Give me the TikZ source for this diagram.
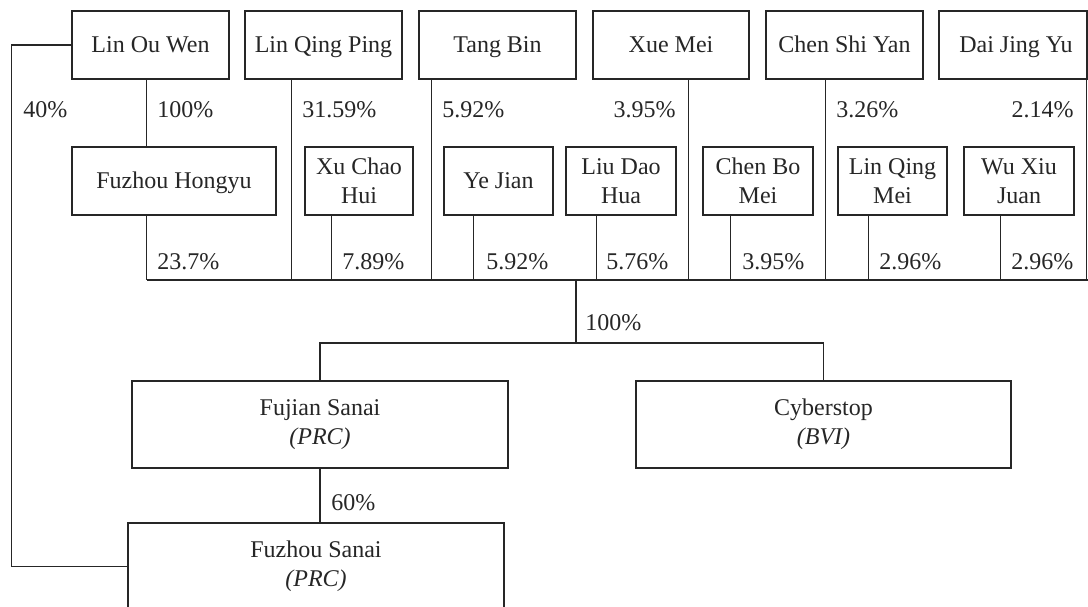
\documentclass[tikz,border=0pt]{standalone}
\usepackage{fontspec}
\setmainfont{Liberation Serif}
\usetikzlibrary{positioning,calc}
\tikzset{
  ent/.style={draw=black!85, line width=0.7pt, inner sep=0pt, minimum height=34pt,
    align=center, text=black!85, font=\fontsize{12}{14.5}\selectfont},
  oneline/.style={ent, text height=9.5pt, text depth=2.5pt},
  pct/.style={inner sep=0pt, text=black!85, font=\fontsize{12}{14.5}\selectfont},
  link/.style={draw=black!85, line width=0.7pt}
}

\begin{document}
\begin{tikzpicture}[x=0.5pt,y=-0.5pt]
\useasboundingbox (0,0) rectangle (1088,606);
% shareholders
\node[oneline,minimum width=78.5pt] (linou) at (150.5,45) {Lin Ou Wen};
\node[oneline,minimum width=78.5pt] (lqp) at (323.5,45) {Lin Qing Ping};
\node[oneline,minimum width=78.5pt] (tang) at (497.5,45) {Tang Bin};
\node[oneline,minimum width=78pt] (xue) at (671,45) {Xue Mei};
\node[oneline,minimum width=78.5pt] (csy) at (844.5,45) {Chen Shi Yan};
\node[oneline,minimum width=74pt] (dai) at (1013,45) {\hspace{3pt}Dai Jing Yu};
\node[oneline,minimum width=102pt] (hongyu) at (174,181) {Fuzhou Hongyu};
\node[ent,minimum width=54pt] (xch) at (359,181) {Xu Chao\\Hui};
\node[oneline,minimum width=54.5pt] (ye) at (498.5,181) {Ye Jian};
\node[ent,minimum width=55pt] (liu) at (621,181) {Liu Dao\\Hua};
\node[ent,minimum width=55pt] (cbm) at (758,181) {Chen Bo\\Mei};
\node[ent,minimum width=54.5pt] (lqm) at (892.5,181) {Lin Qing\\Mei};
\node[ent,minimum width=55pt] (wxj) at (1019,181) {Wu Xiu\\Juan};
% companies
\node[ent,minimum width=188pt,minimum height=43.5pt] (fujian) at (320,424.5) {Fujian Sanai\\\textit{(PRC)}};
\node[ent,minimum width=187.5pt,minimum height=43.5pt] (cyber) at (823.5,424.5) {Cyberstop\\\textit{(BVI)}};
\node[ent,minimum width=188pt,minimum height=43.5pt] (fsanai) at (316,566.5) {Fuzhou Sanai\\\textit{(PRC)}};

\coordinate (bus) at (147,280);
\coordinate (mid) at (576,280);
\coordinate (split) at (576,343);
\draw[link] ($(linou.south west)+(75,0)$) -- ($(hongyu.north west)+(75,0)$);
\foreach \n/\dx in {lqp/47,tang/13,xue/96,csy/60,dai/148}
  \draw[link] ($(\n.south west)+(\dx,0)$) coordinate (t) -- (t |- bus);
\foreach \n/\dx in {hongyu/75,xch/27,ye/30,liu/31,cbm/28,lqm/31,wxj/37}
  \draw[link] ($(\n.south west)+(\dx,0)$) coordinate (t) -- (t |- bus);
\draw[link] (bus) -- (bus -| dai.south east);
\draw[link] (mid) -- (split);
\draw[link] (fujian.north) |- (split) -| (cyber.north);
\draw[link] (fujian.south) -- (fujian.south |- fsanai.north);
\draw[link] (linou.west) -- ++(-60,0) |- (fsanai.west);

% percentages
\node[pct,anchor=west] (p40) at (23,110) {40\%};
\node[pct,anchor=west] (plinou) at (157,110) {100\%};
\node[pct,anchor=west] (plqp) at (302,110) {31.59\%};
\node[pct,anchor=west] (ptang) at (442,110) {5.92\%};
\node[pct,anchor=east] (pxue) at (676,110) {3.95\%};
\node[pct,anchor=west] (pcsy) at (836,110) {3.26\%};
\node[pct,anchor=east] (pdai) at (1074,110) {2.14\%};
\node[pct,anchor=west] (phongyu) at (157,262) {23.7\%};
\node[pct,anchor=west] (pxch) at (342,262) {7.89\%};
\node[pct,anchor=west] (pye) at (486,262) {5.92\%};
\node[pct,anchor=west] (pliu) at (606,262) {5.76\%};
\node[pct,anchor=west] (pcbm) at (742,262) {3.95\%};
\node[pct,anchor=west] (plqm) at (879,262) {2.96\%};
\node[pct,anchor=west] (pwxj) at (1011,262) {2.96\%};
\node[pct,anchor=west] (pmid) at (585,323) {100\%};
\node[pct,anchor=west] (p60) at (331,503) {60\%};
\end{tikzpicture}
\end{document}
